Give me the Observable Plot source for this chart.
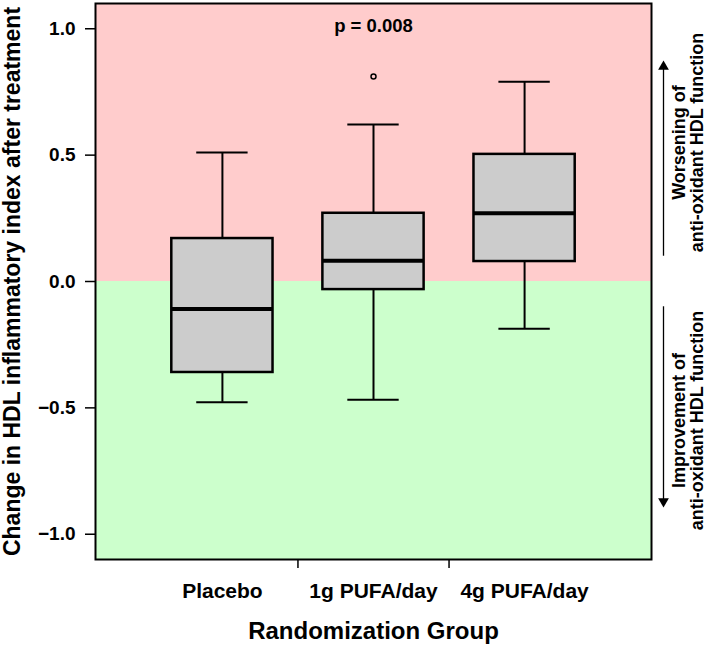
<!DOCTYPE html>
<html>
<head>
<meta charset="utf-8">
<script src="https://cdn.jsdelivr.net/npm/d3@7"></script>
<script src="https://cdn.jsdelivr.net/npm/@observablehq/plot@0.6"></script>
<style>
  html, body { margin: 0; padding: 0; background: #fff; }
  #chart svg { display: block; }
</style>
</head>
<body>
<div id="chart"></div>
<script>
// ---- data ----
const groups = ["Placebo", "1g PUFA/day", "4g PUFA/day"];
const whiskerLow  = [-0.478, -0.468, -0.187];
const quartile1   = [-0.360, -0.032,  0.079];
const medians     = [-0.109,  0.082,  0.270];
const quartile3   = [ 0.170,  0.270,  0.503];
const whiskerHigh = [ 0.510,  0.621,  0.790];
const outlierGroups = ["1g PUFA/day"];
const outlierValues = [0.811];

const yTicks = [-1.0, -0.5, 0.0, 0.5, 1.0];
const groupDividers = [1.5, 2.5];
const yDomain = [-1.1, 1.1];
const xDomain = [0.16, 3.84];

const zoneFrom = [0, -1.1];
const zoneTo = [1.1, 0];
const zoneColors = ["#ffcccc", "#ccffcc"];

const pLabel = "p = 0.008";
const pLabelY = 1.0;

const yTitle = "Change in HDL inflammatory index after treatment";
const xTitle = "Randomization Group";

const noteTexts = ["Worsening of\nanti-oxidant HDL function", "Improvement of\nanti-oxidant HDL function"];
const noteCenters = [0.55, -0.55];
const arrowFrom = [0.10, -0.10];
const arrowTo = [0.85, -0.87];

// ---- build tables ----
const boxes = groups.map((g, i) => ({
  x: i + 1, g,
  lo: whiskerLow[i], q1: quartile1[i], med: medians[i], q3: quartile3[i], hi: whiskerHigh[i]
}));
const outliers = outlierGroups.map((g, i) => ({x: groups.indexOf(g) + 1, value: outlierValues[i]}));
const zones = zoneFrom.map((f, i) => ({from: f, to: zoneTo[i], fill: zoneColors[i]}));
const notes = noteTexts.map((t, i) => ({text: t, center: noteCenters[i], from: arrowFrom[i], to: arrowTo[i]}));

const halfBox = 0.335, halfCap = 0.17;
const xMax = xDomain[1];
const fmt = d => d.toFixed(1).replace("-", "\u2212");

const chart = Plot.plot({
  width: 709,
  height: 646,
  marginLeft: 95,
  marginRight: 58,
  marginTop: 3,
  marginBottom: 87,
  style: {fontFamily: "'Liberation Sans', Arial, sans-serif", fontWeight: "bold", color: "black", background: "white"},
  x: {type: "linear", domain: xDomain},
  y: {domain: yDomain},
  marks: [
    Plot.rect(zones, {x1: () => xDomain[0], x2: () => xDomain[1], y1: "from", y2: "to", fill: "fill"}),
    Plot.frame({stroke: "black", strokeWidth: 2}),
    // whiskers
    Plot.ruleX(boxes, {x: "x", y1: "q3", y2: "hi", stroke: "black", strokeWidth: 2}),
    Plot.ruleX(boxes, {x: "x", y1: "lo", y2: "q1", stroke: "black", strokeWidth: 2}),
    Plot.ruleY(boxes, {y: "hi", x1: d => d.x - halfCap, x2: d => d.x + halfCap, stroke: "black", strokeWidth: 2}),
    Plot.ruleY(boxes, {y: "lo", x1: d => d.x - halfCap, x2: d => d.x + halfCap, stroke: "black", strokeWidth: 2}),
    // boxes
    Plot.rect(boxes, {x1: d => d.x - halfBox, x2: d => d.x + halfBox, y1: "q1", y2: "q3", fill: "#cccccc", stroke: "black", strokeWidth: 2.5}),
    Plot.ruleY(boxes, {y: "med", x1: d => d.x - halfBox, x2: d => d.x + halfBox, stroke: "black", strokeWidth: 4}),
    Plot.dot(outliers, {x: "x", y: "value", r: 2.5, stroke: "black", strokeWidth: 1.5, fill: "none"}),
    // p value
    Plot.text([pLabel], {x: () => 2, y: () => pLabelY, text: d => d, fontSize: 18.5, dy: -3}),
    // axes
    Plot.axisY({ticks: yTicks, tickFormat: fmt, tickSize: 10, tickPadding: 10, fontSize: 19, strokeWidth: 1.5, label: null}),
    Plot.axisX({ticks: groupDividers, tickFormat: () => "", tickSize: 9, strokeWidth: 1.5, label: null}),
    Plot.axisX({ticks: boxes.map(d => d.x), tickFormat: i => groups[i - 1], tickSize: 0, tickPadding: 24, fontSize: 21, label: null}),
    // titles
    Plot.text([yTitle], {frameAnchor: "left", textAnchor: "middle", dx: -83, rotate: -90, fontSize: 23, text: d => d}),
    Plot.text([xTitle], {frameAnchor: "bottom", dy: 72, fontSize: 24, text: d => d, lineAnchor: "middle"}),
    // right annotations
    Plot.ruleX(notes, {x: () => xMax, dx: 12, y1: "from", y2: "to", stroke: "black", strokeWidth: 1.3}),
    Plot.dot(notes, {x: () => xMax, dx: 12, y: "to", symbol: "triangle", r: 4, fill: "black", rotate: d => d.to > 0 ? 0 : 180}),
    Plot.text(notes, {x: () => xMax, dx: 37, y: "center", text: "text", rotate: -90, lineAnchor: "middle", lineHeight: 1.0, fontSize: 18})
  ]
});
document.getElementById("chart").appendChild(chart);
</script>
</body>
</html>
